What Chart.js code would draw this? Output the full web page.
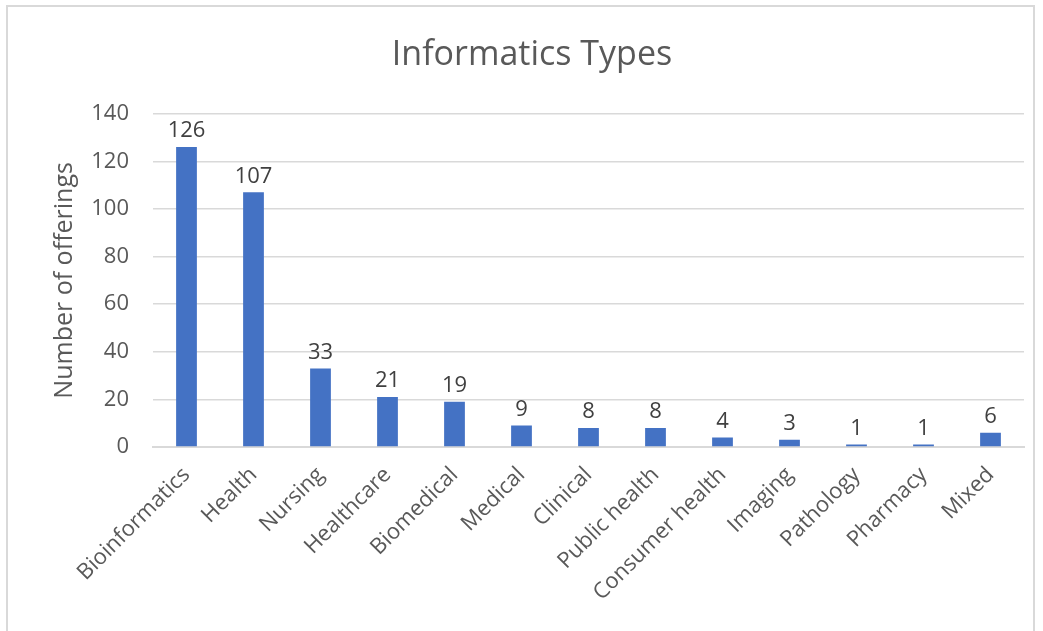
<!DOCTYPE html>
<html>
<head>
<meta charset="utf-8">
<script src="https://cdn.jsdelivr.net/npm/chart.js@4/dist/chart.umd.min.js"></script>
<style>
  html, body { margin: 0; padding: 0; background: #fff; overflow: hidden; }
  #frame { position: absolute; left: 6px; top: 5px; width: 1029px; height: 650px; border: 2px solid #d9d9d9; box-sizing: border-box; }
  #wrap { position: absolute; left: 0; top: 0; width: 1043px; height: 631px; }
</style>
</head>
<body>
<div id="frame"></div>
<div id="wrap"><canvas id="chart" width="1043" height="631"></canvas></div>
<script>
const categories = ["Bioinformatics","Health","Nursing","Healthcare","Biomedical","Medical","Clinical","Public health","Consumer health","Imaging","Pathology","Pharmacy","Mixed"];
const offerings = [126,107,33,21,19,9,8,8,4,3,1,1,6];
const yTicks = [0,20,40,60,80,100,120,140];

const fontName = "'Open Sans', 'Liberation Sans', sans-serif";

// draws the value above each bar
const barValues = {
  id: "barValues",
  afterDatasetsDraw(chart){
    const ctx = chart.ctx;
    const meta = chart.getDatasetMeta(0);
    ctx.save();
    ctx.font = "22px " + fontName;
    ctx.fillStyle = "#404040";
    ctx.textAlign = "center";
    ctx.textBaseline = "bottom";
    meta.data.forEach((bar, i)=>{
      ctx.fillText(String(offerings[i]), bar.x, bar.y - 5);
    });
    ctx.restore();
  }
};

new Chart(document.getElementById("chart"),{
  type:"bar",
  data:{
    labels:categories,
    datasets:[{
      data:offerings,
      backgroundColor:"#4472C4",
      categoryPercentage:1,
      barPercentage:0.31
    }]
  },
  options:{
    responsive:false,
    animation:false,
    layout:{ padding:{ left:40, right:19, top:0, bottom:0 } },
    plugins:{
      legend:{ display:false },
      tooltip:{ enabled:false },
      title:{
        display:true,
        text:"Informatics Types",
        color:"#595959",
        font:{ family:fontName, size:34, weight:"normal" },
        padding:{ top:35, bottom:38 }
      }
    },
    scales:{
      x:{
        grid:{ display:false, drawTicks:false },
        border:{ color:"#d9d9d9", width:2 },
        ticks:{
          color:"#595959",
          font:{ family:fontName, size:22 },
          minRotation:45,
          maxRotation:45,
          padding:15,
          autoSkip:false
        },
        afterFit(scale){ scale.height = 184; }
      },
      y:{
        min:0,
        max:140,
        afterBuildTicks(scale){ scale.ticks = yTicks.map(v=>({value:v})); },
        grid:{ color:"#d9d9d9", lineWidth:1.5, drawTicks:false },
        border:{ display:false },
        ticks:{
          color:"#595959",
          font:{ family:fontName, size:22 },
          padding:24
        },
        title:{
          display:true,
          text:"Number of offerings",
          color:"#595959",
          font:{ family:fontName, size:25 },
          padding:{ top:10, bottom:0 }
        },
        afterFit(scale){ scale.width = 113; }
      }
    }
  },
  plugins:[barValues]
});
</script>
</body>
</html>
